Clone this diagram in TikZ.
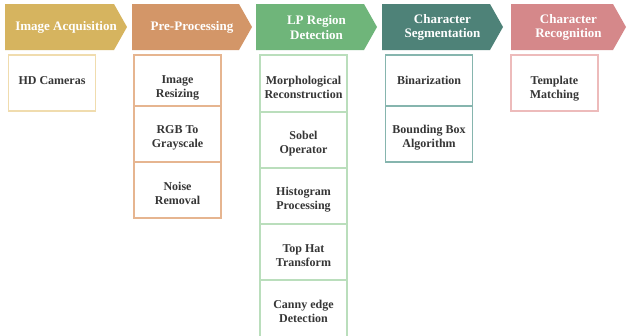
\documentclass[tikz,border=0pt]{standalone}
\usepackage{fontspec}
\setmainfont{Liberation Serif}
\definecolor{cGold}{HTML}{D6B45F}
\definecolor{cOrange}{HTML}{D39668}
\definecolor{cGreen}{HTML}{6FB57A}
\definecolor{cTeal}{HTML}{4E8278}
\definecolor{cPink}{HTML}{D5888A}
\definecolor{bGold}{HTML}{F0DCAE}
\definecolor{bOrange}{HTML}{E6B590}
\definecolor{bGreen}{HTML}{BADEBC}
\definecolor{bTeal}{HTML}{86B5AE}
\definecolor{bPink}{HTML}{EDBBBB}
\definecolor{txt}{HTML}{363636}
\tikzset{
  hdrtext/.style={text=white, font=\bfseries\fontsize{13}{14.8}\selectfont, align=center, inner sep=0pt},
  cell/.style={draw=#1, line width=1.2pt, minimum width=87pt, inner sep=0pt, outer sep=0pt, rectangle},
  celltext/.style={text=txt, font=\bfseries\fontsize{12}{14}\selectfont, align=center, inner sep=0pt},
}
\newcommand{\chev}[3]{% left, tip, color
  \fill[#3] (#1,4) -- ({#2-13},4) -- (#2,27) -- ({#2-13},50) -- (#1,50) -- cycle;
}
% name, border colour, cx, cy, height, text, text shift (down)
\newcommand{\cellbox}[7]{%
  \node[cell=#2, minimum height=#5pt] (#1) at (#3,#4) {};
  \node[celltext] (#1t) at ([yshift=#7pt]#1.center) {#6};
}
\begin{document}
\begin{tikzpicture}[x=1pt,y=-1pt]
\useasboundingbox (0,0) rectangle (627,335);
\clip (0,0) rectangle (627,335);
\fill[white] (0,0) rectangle (627,335);
% chevrons
\chev{5}{127}{cGold}
\chev{132}{252}{cOrange}
\chev{256}{377}{cGreen}
\chev{382}{503}{cTeal}
\chev{511}{626}{cPink}
\node[hdrtext] (h1) at (66,27.5) {Image Acquisition};
\node[hdrtext] (h2) at (192,27.5) {Pre-Processing};
\node[hdrtext] (h3) at (316.5,27.5) {LP Region\\Detection};
\node[hdrtext] (h4) at (442.5,27.5) {Character\\Segmentation};
\node[hdrtext] (h5) at (568.5,27.5) {Character\\Recognition};
% column 1
\cellbox{c1a}{bGold}{52}{83}{56}{HD Cameras}{2}
% column 2
\cellbox{c2a}{bOrange}{177.5}{80.5}{51}{Image\\Resizing}{-7.5}
\cellbox{c2b}{bOrange}{177.5}{134}{56}{RGB To\\Grayscale}{-3.5}
\cellbox{c2c}{bOrange}{177.5}{190}{56}{Noise\\Removal}{-3.5}
% column 3
\cellbox{c3a}{bGreen}{303.5}{83.5}{57}{Morphological\\Reconstruction}{-3.5}
\cellbox{c3b}{bGreen}{303.5}{140}{56}{Sobel\\Operator}{-3.5}
\cellbox{c3c}{bGreen}{303.5}{196}{56}{Histogram\\Processing}{-3.5}
\cellbox{c3d}{bGreen}{303.5}{252}{56}{Top Hat\\Transform}{-3.5}
\cellbox{c3e}{bGreen}{303.5}{311}{62}{Canny edge\\Detection}{-0.5}
% column 4
\cellbox{c4a}{bTeal}{429}{80.5}{51}{Binarization}{0}
\cellbox{c4b}{bTeal}{429}{134}{56}{Bounding Box\\Algorithm}{-3.5}
% column 5
\cellbox{c5a}{bPink}{554.5}{83}{56}{Template\\Matching}{-5.5}
\end{tikzpicture}
\end{document}
